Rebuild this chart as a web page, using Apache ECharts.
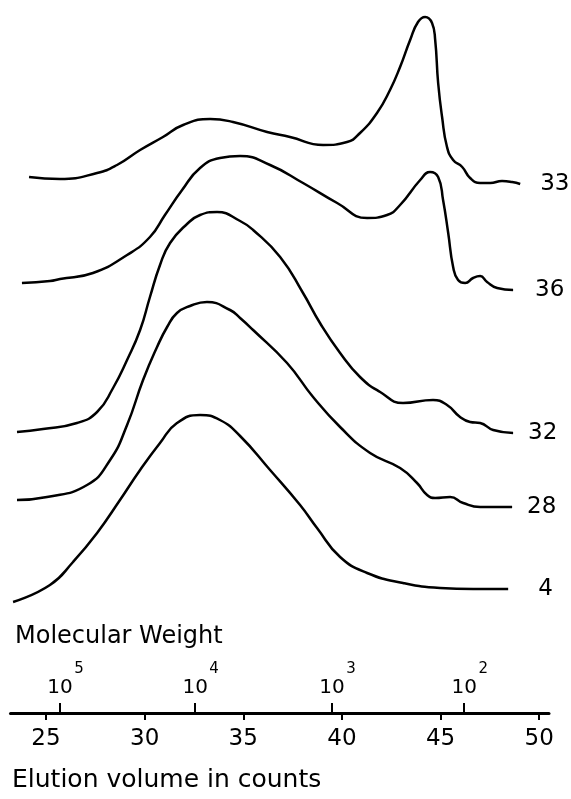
<!DOCTYPE html>
<html>
<head>
<meta charset="utf-8">
<script src="https://cdn.jsdelivr.net/npm/echarts@6/dist/echarts.min.js"></script>
<style>
  html, body { margin: 0; padding: 0; background: #fff; }
  #chart { width: 571px; height: 799px; }
</style>
</head>
<body>
<div id="chart"></div>
<script>
// elution volume (counts) vs. detector response (arbitrary units, curves stacked)
const curve33 = [[24.14,536],[25.71,534],[27.59,540],[28.60,548],[29.77,563],[30.93,576],[31.95,588],[33.32,594],[34.48,591],[36.21,581],[37.37,576],[39.05,568],[40.26,571],[40.92,580],[41.78,600],[42.44,623],[42.95,646],[43.46,673],[43.86,691],[44.22,696],[44.57,690],[44.73,673],[44.88,630],[45.08,596],[45.33,566],[45.64,553],[46.10,546],[46.50,535],[47.01,530],[47.52,530],[48.12,532],[48.63,531],[49.04,529]];
const curve36 = [[23.78,430],[25.20,432],[25.71,434],[27.38,440],[29.11,458],[30.27,476],[31.03,498],[31.90,523],[32.81,545],[33.82,555],[34.84,557],[36.36,548],[38.03,530],[39.76,510],[41.28,495],[42.29,498],[42.95,508],[43.97,533],[44.47,541],[44.88,536],[45.13,513],[45.39,480],[45.64,446],[45.89,433],[46.25,430],[46.65,435],[47.01,437],[47.36,431],[47.87,425],[48.68,423]];
const curve32 = [[23.53,281],[24.85,284],[26.57,290],[27.59,301],[28.40,325],[29.11,353],[29.77,383],[30.27,416],[30.78,448],[31.29,470],[32.15,489],[32.81,498],[33.67,501],[34.84,492],[35.50,483],[36.87,456],[38.03,420],[38.89,390],[39.91,360],[40.92,336],[41.94,321],[43.10,310],[44.62,313],[45.33,308],[45.99,296],[46.50,291],[47.01,290],[47.67,283],[48.68,280]];
const curve28 = [[23.53,213],[25.05,216],[27.08,228],[28.25,253],[29.11,288],[29.92,333],[30.63,366],[31.14,386],[31.64,400],[32.30,407],[33.16,411],[34.33,403],[34.84,395],[35.50,383],[37.22,350],[38.54,316],[39.91,286],[41.43,260],[42.95,245],[43.81,230],[44.32,218],[44.73,215],[45.49,216],[46.15,210],[47.01,206],[48.63,206]];
const curve4 = [[23.33,111],[25.20,128],[26.37,151],[27.59,180],[28.75,213],[29.77,243],[30.78,270],[31.64,290],[32.81,298],[33.82,293],[34.84,277],[36.36,243],[37.88,208],[38.74,185],[39.91,156],[41.28,140],[43.10,130],[44.98,125],[46.65,124],[48.43,124]];

const curveNames = ["33", "36", "32", "28", "4"];
const elutionTicks = [25, 30, 35, 40, 45, 50];
const mwTickPos = [25.71, 32.56, 39.50, 46.20];
const mwExponents = ["5", "4", "3", "2"];

const FONT = "DejaVu Sans";
const labelGap = [20, 22, 15, 15, 30];

const chart = echarts.init(document.getElementById("chart"));

const curves = [curve33, curve36, curve32, curve28, curve4];

const mwAxis = (extra) => ({
  type: "value",
  min: 23.2,
  max: 50.5,
  position: "bottom",
  splitLine: { show: false },
  axisLine: { show: false },
  ...extra,
});

const option = {
  animation: false,
  backgroundColor: "#fff",
  grid: { left: 10.5, right: 22, top: 13, bottom: 86 },
  xAxis: [
    {
      type: "value",
      min: 23.2,
      max: 50.5,
      splitLine: { show: false },
      axisLine: { show: true, lineStyle: { color: "#000", width: 3 } },
      axisTick: {
        show: true,
        customValues: elutionTicks,
        length: 7,
        lineStyle: { color: "#000", width: 2 },
      },
      axisLabel: {
        customValues: elutionTicks,
        margin: 15,
        color: "#000",
        fontFamily: FONT,
        fontSize: 23,
      },
    },
    // molecular weight scale: ticks and "10"
    mwAxis({
      axisTick: {
        show: true,
        inside: true,
        customValues: mwTickPos,
        length: 10,
        lineStyle: { color: "#000", width: 2 },
      },
      axisLabel: {
        inside: true,
        customValues: mwTickPos,
        margin: 15,
        color: "#000",
        fontFamily: FONT,
        fontSize: 20,
        formatter: () => "10",
      },
    }),
    // molecular weight exponents
    mwAxis({
      axisTick: { show: false },
      axisLabel: {
        inside: true,
        customValues: mwTickPos,
        margin: 36,
        color: "#000",
        fontFamily: FONT,
        fontSize: 15,
        padding: [0, 0, 0, 38],
        formatter: (value) => mwExponents[mwTickPos.indexOf(value)],
      },
    }),
  ],
  yAxis: {
    type: "value",
    min: 0,
    max: 700,
    show: false,
  },
  graphic: [
    {
      type: "text",
      x: 15,
      y: 637,
      style: {
        text: "Molecular Weight",
        fontFamily: FONT,
        fontSize: 24,
        fill: "#000",
        verticalAlign: "middle",
      },
    },
    {
      type: "text",
      x: 12,
      y: 780,
      style: {
        text: "Elution volume in counts",
        fontFamily: FONT,
        fontSize: 25,
        fill: "#000",
        verticalAlign: "middle",
      },
    },
  ],
  series: curves.map((data, i) => ({
    name: curveNames[i],
    type: "line",
    data: data,
    smooth: 0.5,
    showSymbol: false,
    lineStyle: { color: "#000", width: 2.5 },
    endLabel: {
      show: true,
      formatter: "{a}",
      distance: labelGap[i],
      color: "#000",
      fontFamily: FONT,
      fontSize: 23,
    },
  })),
};

chart.setOption(option);
</script>
</body>
</html>
